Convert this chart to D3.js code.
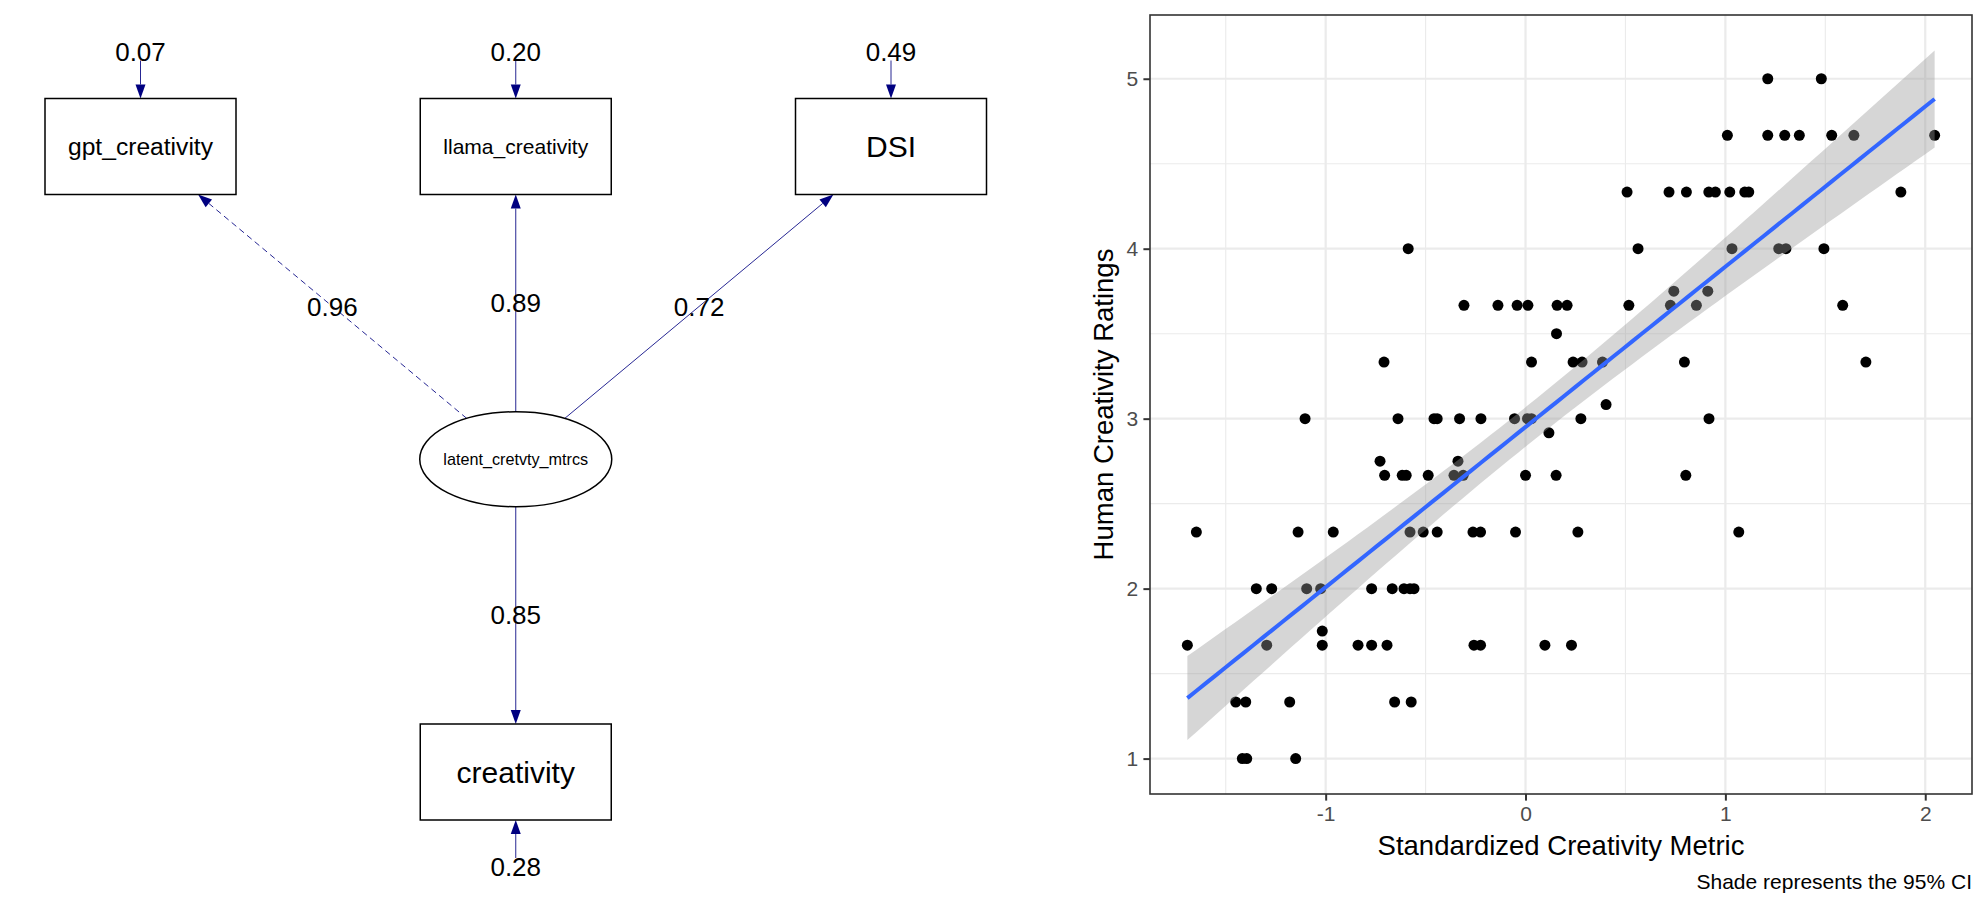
<!DOCTYPE html>
<html><head><meta charset="utf-8">
<script src="https://cdn.jsdelivr.net/npm/d3@7"></script>
<style>
body{margin:0;background:#fff;}
svg{display:block;font-family:"Liberation Sans",Arial,Helvetica,sans-serif;}
</style>
</head><body>
<svg id="c" width="1982" height="901"></svg>
<script>
// ---------------- SEM path diagram data ----------------
const semNodes  = ["gpt_creativity", "llama_creativity", "DSI", "latent_cretvty_mtrcs", "creativity"];
const semShapes = ["box", "box", "box", "ellipse", "box"];
const semCols   = [0, 1, 2, 1, 1];
const semRows   = [0, 0, 0, 1, 2];
const loadingTargets = ["gpt_creativity", "llama_creativity", "DSI", "creativity"];
const loadings       = ["0.96", "0.89", "0.72", "0.85"];
const loadingFixed   = [true, false, false, false];
const residualNodes  = ["gpt_creativity", "llama_creativity", "DSI", "creativity"];
const residuals      = ["0.07", "0.20", "0.49", "0.28"];
const residualSide   = ["top", "top", "top", "bottom"];

// ---------------- Scatter data ----------------
const ratingLevels = [1, 1.333, 1.667, 1.75, 2, 2.333, 2.667, 2.75, 2.917, 3, 3.083, 3.333, 3.5, 3.667, 3.75, 4, 4.333, 4.667, 5];
const metricByLevel = [
  [-1.417, -1.395, -1.15],
  [-1.45, -1.40, -1.18, -0.655, -0.572],
  [-1.692, -1.295, -1.017, -0.838, -0.77, -0.693, -0.258, -0.225, 0.097, 0.23],
  [-1.017],
  [-1.347, -1.27, -1.095, -1.025, -0.77, -0.667, -0.608, -0.578, -0.558],
  [-1.647, -1.138, -0.962, -0.578, -0.512, -0.442, -0.263, -0.225, -0.05, 0.262, 1.067],
  [-0.705, -0.617, -0.597, -0.487, -0.358, -0.312, 0.0, 0.153, 0.802],
  [-0.728, -0.338],
  [0.117],
  [-1.103, -0.638, -0.458, -0.442, -0.33, -0.223, -0.055, 0.01, 0.03, 0.277, 0.918],
  [0.403],
  [-0.708, 0.03, 0.238, 0.283, 0.385, 0.795, 1.703],
  [0.155],
  [-0.308, -0.138, -0.042, 0.012, 0.158, 0.208, 0.517, 0.725, 0.855, 1.587],
  [0.742, 0.912],
  [-0.587, 0.563, 1.033, 1.267, 1.303, 1.493],
  [0.508, 0.718, 0.805, 0.917, 0.95, 1.022, 1.097, 1.117, 1.878],
  [1.01, 1.212, 1.297, 1.37, 1.532, 1.643, 2.047],
  [1.212, 1.48]
];
const xTicks = [-1, 0, 1, 2];
const yTicks = [1, 2, 3, 4, 5];
const xMinor = [-1.5, -0.5, 0.5, 1.5];
const yMinor = [1.5, 2.5, 3.5, 4.5];
const xTitle = "Standardized Creativity Metric";
const yTitle = "Human Creativity Ratings";
const caption = "Shade represents the 95% CI";

const svg = d3.select("#c");

// ================= SEM =================
(function drawSEM(){
  const g = svg.append("g");
  const colX = d3.scaleLinear().domain([0, 2]).range([140.5, 891]);
  const rowY = d3.scaleLinear().domain([0, 2]).range([146.5, 772]);
  const BW = 191, BH = 96, RX = 96, RY = 47.5;
  const EDGE = "#000080";
  const nodes = semNodes.map((name, i) => ({name, shape: semShapes[i], x: colX(semCols[i]), y: rowY(semRows[i])}));
  const byName = Object.fromEntries(nodes.map(n => [n.name, n]));
  const latent = nodes.find(n => n.shape === "ellipse");

  function borderT(node, dx, dy){
    if (node.shape === "box"){
      const tx = dx ? (BW/2)/Math.abs(dx) : Infinity;
      const ty = dy ? (BH/2)/Math.abs(dy) : Infinity;
      return Math.min(tx, ty);
    }
    return 1/Math.sqrt((dx/RX)**2 + (dy/RY)**2);
  }
  function arrow(x1, y1, x2, y2, dashed){
    const L = 14, W = 5;
    const dx = x2 - x1, dy = y2 - y1, len = Math.hypot(dx, dy);
    const ux = dx/len, uy = dy/len;
    const bx = x2 - ux*L, by = y2 - uy*L;
    g.append("line").attr("x1", x1).attr("y1", y1).attr("x2", bx).attr("y2", by)
      .attr("stroke", EDGE).attr("stroke-width", 1).attr("stroke-opacity", 0.85)
      .attr("stroke-dasharray", dashed ? "6,4" : null);
    g.append("path").attr("d", `M${x2},${y2}L${bx - uy*W},${by + ux*W}L${bx + uy*W},${by - ux*W}Z`)
      .attr("fill", EDGE);
  }

  // loading edges
  const edgeLabels = [];
  loadingTargets.forEach((tn, i) => {
    const t = byName[tn];
    const dx = t.x - latent.x, dy = t.y - latent.y;
    const ts = borderT(latent, dx, dy);
    const te = borderT(t, -dx, -dy);
    const sx = latent.x + dx*ts, sy = latent.y + dy*ts;
    const ex = t.x - dx*te, ey = t.y - dy*te;
    arrow(sx, sy, ex, ey, loadingFixed[i]);
    edgeLabels.push({x: (sx + ex)/2, y: (sy + ey)/2, text: loadings[i]});
  });
  // residual arrows
  residualNodes.forEach((tn, i) => {
    const t = byName[tn];
    const sign = residualSide[i] === "top" ? -1 : 1;
    const edgeY = t.y + sign*BH/2;
    const labY = edgeY + sign*47;
    arrow(t.x, labY - sign*9, t.x, edgeY, false);
    edgeLabels.push({x: t.x, y: labY, text: residuals[i]});
  });

  // nodes
  nodes.forEach(n => {
    if (n.shape === "box"){
      g.append("rect").attr("x", n.x - BW/2).attr("y", n.y - BH/2).attr("width", BW).attr("height", BH)
        .attr("fill", "#fff").attr("stroke", "#000").attr("stroke-width", 1.5);
    } else {
      g.append("ellipse").attr("cx", n.x).attr("cy", n.y).attr("rx", RX).attr("ry", RY)
        .attr("fill", "#fff").attr("stroke", "#000").attr("stroke-width", 1.5);
    }
    const txt = g.append("text").attr("x", n.x).attr("y", n.y).attr("dy", "0.35em")
      .attr("text-anchor", "middle").attr("font-size", 30).attr("fill", "#000").text(n.name);
    const len = txt.node().getComputedTextLength();
    if (len > 145) txt.attr("font-size", 30*145/len);
  });

  // edge labels
  edgeLabels.forEach(l => {
    g.append("text").attr("x", l.x).attr("y", l.y).attr("dy", "0.35em")
      .attr("text-anchor", "middle").attr("font-size", 26).attr("fill", "#000").text(l.text);
  });
})();

// ================= Scatter =================
(function drawScatter(){
  const pts = [];
  ratingLevels.forEach((lv, i) => metricByLevel[i].forEach(x => pts.push({x, y: lv})));
  const n = pts.length;
  const mx = d3.mean(pts, d => d.x), my = d3.mean(pts, d => d.y);
  const Sxx = d3.sum(pts, d => (d.x - mx)**2);
  const Sxy = d3.sum(pts, d => (d.x - mx)*(d.y - my));
  const b = Sxy/Sxx, a = my - b*mx;
  const sse = d3.sum(pts, d => (d.y - a - b*d.x)**2);
  const s = Math.sqrt(sse/(n - 2));
  const df = n - 2, z = 1.959964;
  const tq = z + (z**3 + z)/(4*df) + (5*z**5 + 16*z**3 + 3*z)/(96*df*df) + (3*z**7 + 19*z**5 + 17*z**3 - 15*z)/(384*df**3);
  const [xmin, xmax] = d3.extent(pts, d => d.x);
  const fit = d3.range(80).map(i => {
    const x = xmin + (xmax - xmin)*i/79;
    const yh = a + b*x;
    const se = s*Math.sqrt(1/n + (x - mx)**2/Sxx);
    return {x, y: yh, lo: yh - tq*se, hi: yh + tq*se};
  });
  const yLo = Math.min(d3.min(pts, d => d.y), d3.min(fit, d => d.lo));
  const yHi = Math.max(d3.max(pts, d => d.y), d3.max(fit, d => d.hi));
  const xw = xmax - xmin, yw = yHi - yLo;

  const L = 1150, R = 1972, T = 15, B = 794;
  const x = d3.scaleLinear().domain([xmin - 0.05*xw, xmax + 0.05*xw]).range([L, R]);
  const y = d3.scaleLinear().domain([yLo - 0.05*yw, yHi + 0.05*yw]).range([B, T]);

  const g = svg.append("g");
  const grid = g.append("g");
  xMinor.forEach(v => grid.append("line").attr("x1", x(v)).attr("x2", x(v)).attr("y1", T).attr("y2", B).attr("stroke", "#EBEBEB").attr("stroke-width", 1.1));
  yMinor.forEach(v => grid.append("line").attr("y1", y(v)).attr("y2", y(v)).attr("x1", L).attr("x2", R).attr("stroke", "#EBEBEB").attr("stroke-width", 1.1));
  xTicks.forEach(v => grid.append("line").attr("x1", x(v)).attr("x2", x(v)).attr("y1", T).attr("y2", B).attr("stroke", "#EBEBEB").attr("stroke-width", 2.2));
  yTicks.forEach(v => grid.append("line").attr("y1", y(v)).attr("y2", y(v)).attr("x1", L).attr("x2", R).attr("stroke", "#EBEBEB").attr("stroke-width", 2.2));

  g.append("g").selectAll("circle").data(pts).join("circle")
    .attr("cx", d => x(d.x)).attr("cy", d => y(d.y)).attr("r", 5.5).attr("fill", "#000");

  g.append("path").datum(fit)
    .attr("d", d3.area().x(d => x(d.x)).y0(d => y(d.lo)).y1(d => y(d.hi)))
    .attr("fill", "#999999").attr("fill-opacity", 0.4);
  g.append("path").datum(fit)
    .attr("d", d3.line().x(d => x(d.x)).y(d => y(d.y)))
    .attr("fill", "none").attr("stroke", "#3366FF").attr("stroke-width", 4);

  g.append("rect").attr("x", L).attr("y", T).attr("width", R - L).attr("height", B - T)
    .attr("fill", "none").attr("stroke", "#333333").attr("stroke-width", 1.6);

  const fmt = d => String(d);
  const ax = g.append("g").attr("transform", `translate(0,${B})`)
    .call(d3.axisBottom(x).tickValues(xTicks).tickFormat(fmt).tickSize(6.6).tickSizeOuter(0).tickPadding(5.3));
  const ay = g.append("g").attr("transform", `translate(${L},0)`)
    .call(d3.axisLeft(y).tickValues(yTicks).tickFormat(fmt).tickSize(6.6).tickSizeOuter(0).tickPadding(5.3));
  [ax, ay].forEach(a => {
    a.select(".domain").remove();
    a.selectAll(".tick line").attr("stroke", "#333333").attr("stroke-width", 2);
    a.selectAll(".tick text").attr("fill", "#4D4D4D").attr("font-size", 21)
      .attr("font-family", '"Liberation Sans",Arial,Helvetica,sans-serif');
  });

  g.append("text").attr("x", (L + R)/2).attr("y", 855).attr("text-anchor", "middle")
    .attr("font-size", 27.5).attr("fill", "#000").text(xTitle);
  g.append("text").attr("transform", `translate(1113,${(T + B)/2}) rotate(-90)`).attr("text-anchor", "middle")
    .attr("font-size", 27.5).attr("fill", "#000").text(yTitle);
  g.append("text").attr("x", R).attr("y", 889).attr("text-anchor", "end")
    .attr("font-size", 21).attr("fill", "#000").text(caption);
})();
</script>
</body></html>
